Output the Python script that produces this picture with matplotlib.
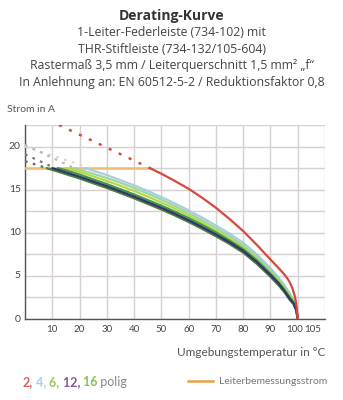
import matplotlib
matplotlib.use("Agg")
import matplotlib.pyplot as plt
from matplotlib.lines import Line2D
import numpy as np

plt.rcParams['font.family'] = ['Lato', 'DejaVu Sans']

# ---- data ----
title = "Derating-Kurve"
subtitle = ["1-Leiter-Federleiste (734-102) mit",
            "THR-Stiftleiste (734-132/105-604)",
            "Rastermaß 3,5 mm / Leiterquerschnitt 1,5 mm² „f“",
            "In Anlehnung an: EN 60512-5-2 / Reduktionsfaktor 0,8"]
xticks = [10, 20, 30, 40, 50, 60, 70, 80, 90, 100, 105]
yticks = [0, 5, 10, 15, 20]
rated_current = 17.5
rated_end_T = 45.8

# 2-polig (red)
red_T = [45.8, 50, 55, 60, 65, 70, 75, 80, 85, 90, 93, 95, 96, 97, 98, 99, 99.6, 100]
red_I = [17.5, 16.85, 16.0, 15.1, 14.05, 12.9, 11.6, 10.2, 8.6, 6.9, 5.9, 5.2, 4.8, 4.3, 3.6, 2.6, 1.5, 0.0]
red_dash_T = [12.5, 45.8]
red_dash_I = [22.5, 17.5]

# bundle curves
lb_T = [22, 25, 30, 35, 40, 45, 50, 55, 60, 65, 70, 75, 80, 85, 90, 93, 95, 97, 98.5, 99.5, 100]
lb_I = [17.5, 17.2, 16.7, 16.1, 15.5, 14.85, 14.15, 13.4, 12.6, 11.75, 10.85, 9.9, 8.85, 7.5, 5.9, 4.8, 4.0, 3.0, 2.3, 1.3, 0]
lg_T = [18, 20, 25, 30, 35, 40, 45, 50, 55, 60, 65, 70, 75, 80, 85, 90, 93, 95, 97, 98.5, 99.5, 100]
lg_I = [17.5, 17.3, 16.85, 16.35, 15.8, 15.2, 14.55, 13.85, 13.1, 12.3, 11.45, 10.55, 9.6, 8.55, 7.2, 5.65, 4.6, 3.8, 2.85, 2.2, 1.2, 0]
yg_T = [15, 20, 25, 30, 35, 40, 45, 50, 55, 60, 65, 70, 75, 80, 85, 90, 93, 95, 97, 98.5, 99.5, 100]
yg_I = [17.5, 17.05, 16.55, 16.0, 15.45, 14.85, 14.2, 13.5, 12.8, 12.0, 11.15, 10.25, 9.3, 8.3, 6.95, 5.4, 4.4, 3.6, 2.7, 2.05, 1.1, 0]
gr_T = [12, 15, 20, 25, 30, 35, 40, 45, 50, 55, 60, 65, 70, 75, 80, 85, 90, 93, 95, 97, 98.5, 99.5, 100]
gr_I = [17.5, 17.25, 16.75, 16.2, 15.65, 15.05, 14.45, 13.8, 13.15, 12.45, 11.7, 10.9, 10.05, 9.1, 8.1, 6.8, 5.25, 4.25, 3.45, 2.55, 1.9, 1.05, 0]
nv_T = [10, 15, 20, 25, 30, 35, 40, 45, 50, 55, 60, 65, 70, 75, 80, 85, 90, 93, 95, 97, 98.5, 99.5, 100]
nv_I = [17.5, 17.0, 16.5, 15.95, 15.4, 14.8, 14.2, 13.55, 12.9, 12.2, 11.45, 10.65, 9.8, 8.9, 7.9, 6.6, 5.1, 4.1, 3.3, 2.4, 1.8, 1.0, 0]
dg_T = [8, 10, 15, 20, 25, 30, 35, 40, 45, 50, 55, 60, 65, 70, 75, 80, 85, 90, 93, 95, 97, 98.5, 99.5, 100]
dg_I = [17.5, 17.3, 16.8, 16.3, 15.75, 15.2, 14.6, 14.0, 13.35, 12.7, 12.0, 11.25, 10.45, 9.6, 8.7, 7.7, 6.4, 4.9, 3.9, 3.15, 2.25, 1.7, 0.95, 0]

# dotted extrapolations above rated current
dot1_T, dot1_I = [0, 8], [18.3, 17.5]
dot2_T, dot2_I = [0, 11], [19.1, 17.5]
dot3_T, dot3_I = [0, 18], [20.2, 17.5]
dot4_T, dot4_I = [0, 24], [20.0, 17.5]

C_RED = "#d8483c"
C_LB = "#a9cde0"
C_LG = "#9ed79a"
C_YG = "#b9d64a"
C_GR = "#3f9a47"
C_NV = "#33366e"
C_DG = "#4f7d3a"
C_OR = "#f3bb6c"

fig = plt.figure(figsize=(3.43, 4.0), dpi=100)
ax = fig.add_axes([25/343, 1-319/400, 300/343, 194/400])

ax.set_xlim(0, 110)
ax.set_ylim(0, 22.5)
ax.set_xticks(np.arange(0, 111, 10))
ax.set_yticks(np.arange(0, 22.6, 2.5))
ax.grid(True, color="#d6d0d3", linewidth=1.0)
ax.tick_params(length=0, labelbottom=False, labelleft=False)
for s in ["top", "right"]:
    ax.spines[s].set_visible(False)
for s in ["left", "bottom"]:
    ax.spines[s].set_color("#555555")
    ax.spines[s].set_linewidth(1.0)

for x in xticks:
    dx = {100: -2.0, 105: 1.0}.get(x, 0)
    ax.annotate(str(x), xy=(x, 0), xytext=(dx, -4), textcoords="offset points",
                ha="center", va="top", fontsize=7, color="#444444",
                annotation_clip=False)
for y in yticks:
    ax.annotate(str(y), xy=(0, y), xytext=(-3, 0), textcoords="offset points",
                ha="right", va="center", fontsize=7.5, color="#444444",
                annotation_clip=False)

# orange rated current line
ax.plot([0, rated_end_T], [rated_current, rated_current], color=C_OR, lw=1.8, zorder=3)

# dotted parts
dot_ls = (0, (1.2, 2.5))
ax.plot(dot4_T, dot4_I, color="#d6dccb", lw=1.6, ls=dot_ls, zorder=3)
ax.plot(dot3_T, dot3_I, color="#b8b8b8", lw=1.6, ls=dot_ls, zorder=3)
ax.plot(dot2_T, dot2_I, color="#777777", lw=1.6, ls=dot_ls, zorder=3)
ax.plot(dot1_T, dot1_I, color="#666666", lw=1.6, ls=dot_ls, zorder=3)
ax.plot(red_dash_T, red_dash_I, color=C_RED, lw=1.8, ls=(0, (1.2, 3.2)), zorder=3)

# bundle
for T, I, c in [(lb_T, lb_I, C_LB), (lg_T, lg_I, C_LG), (yg_T, yg_I, C_YG),
                (gr_T, gr_I, C_GR), (dg_T, dg_I, C_DG), (nv_T, nv_I, C_NV)]:
    ax.plot(T, I, color=c, lw=1.6, zorder=4, solid_capstyle="round",
            solid_joinstyle="round")

ax.plot(red_T, red_I, color=C_RED, lw=1.6, zorder=5, solid_joinstyle="round")

# titles
fig.text(0.5, 1-16/400, title, ha="center", va="center", fontsize=10,
         fontweight="bold", color="#333333", family=["Open Sans", "DejaVu Sans"])
for i, line in enumerate(subtitle):
    fig.text(0.5, 1-(33+16.5*i)/400, line, ha="center", va="center",
             fontsize=8.8, color="#444444", family=["Open Sans", "DejaVu Sans"])

fig.text(7/343, 1-110/400, "Strom in A", ha="left", va="center",
         fontsize=7.5, color="#555555")
fig.text(325/343, 1-352/400, "Umgebungstemperatur in °C", ha="right",
         va="center", fontsize=8.5, color="#555555")

# legend (multi-coloured text)
parts = [("2,", "#e06055"), (" 4,", "#a9cde6"), (" 6,", "#97cc5c"),
         (" 12,", "#84599f"), (" 16", "#86c05b"), (" polig", "#888888")]
prev = fig.text(23/343, 1-382/400, parts[0][0], ha="left", va="center",
                fontsize=9, color=parts[0][1], fontweight="bold")
for txt, c in parts[1:]:
    prev = ax.annotate(txt, xy=(1, 0), xycoords=prev, ha="left", va="bottom",
                       fontsize=9, color=c,
                       fontweight="bold" if txt != " polig" else "normal",
                       annotation_clip=False)

fig.add_artist(Line2D([188/343, 213/343], [1-381/400, 1-381/400],
                      transform=fig.transFigure, color="#eba246", lw=1.8))
fig.text(219/343, 1-381/400, "Leiterbemessungsstrom", ha="left",
         va="center", fontsize=7.5, color="#777777")

fig.savefig("out.png", dpi=100, facecolor="white")
